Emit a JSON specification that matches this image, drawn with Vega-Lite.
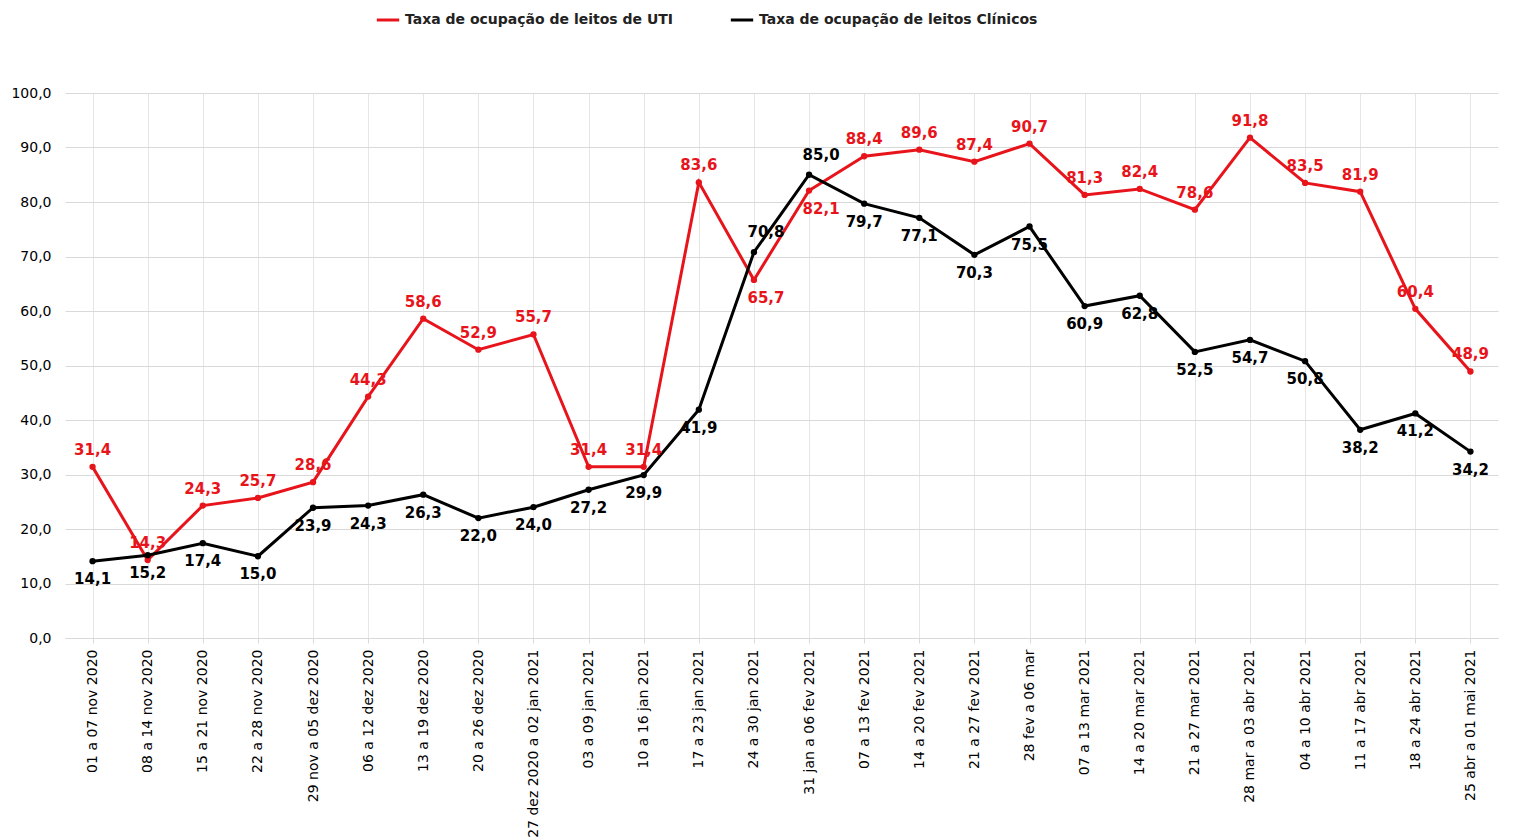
{
"$schema":"https://vega.github.io/schema/vega-lite/v6.json",
"autosize":{"type":"fit","contains":"padding"},
"width":1518,"height":840,
"padding":{"left":10,"right":20,"top":86,"bottom":2},
"config":{"locale":{"number":{"decimal":",","thousands":".","grouping":[3],"currency":["R$",""]}},"view":{"stroke":null},"font":"DejaVu Sans"},
"data":{"values":[
{"s":"Taxa de ocupação de leitos de UTI","w":"01 a 07 nov 2020","v":31.4,"i":0},
{"s":"Taxa de ocupação de leitos de UTI","w":"08 a 14 nov 2020","v":14.3,"i":1},
{"s":"Taxa de ocupação de leitos de UTI","w":"15 a 21 nov 2020","v":24.3,"i":2},
{"s":"Taxa de ocupação de leitos de UTI","w":"22 a 28 nov 2020","v":25.7,"i":3},
{"s":"Taxa de ocupação de leitos de UTI","w":"29 nov a 05 dez 2020","v":28.6,"i":4},
{"s":"Taxa de ocupação de leitos de UTI","w":"06 a 12 dez 2020","v":44.3,"i":5},
{"s":"Taxa de ocupação de leitos de UTI","w":"13 a 19 dez 2020","v":58.6,"i":6},
{"s":"Taxa de ocupação de leitos de UTI","w":"20 a 26 dez 2020","v":52.9,"i":7},
{"s":"Taxa de ocupação de leitos de UTI","w":"27 dez 2020 a 02 jan 2021","v":55.7,"i":8},
{"s":"Taxa de ocupação de leitos de UTI","w":"03 a 09 jan 2021","v":31.4,"i":9},
{"s":"Taxa de ocupação de leitos de UTI","w":"10 a 16 jan 2021","v":31.4,"i":10},
{"s":"Taxa de ocupação de leitos de UTI","w":"17 a 23 jan 2021","v":83.6,"i":11},
{"s":"Taxa de ocupação de leitos de UTI","w":"24 a 30 jan 2021","v":65.7,"i":12},
{"s":"Taxa de ocupação de leitos de UTI","w":"31 jan a 06 fev 2021","v":82.1,"i":13},
{"s":"Taxa de ocupação de leitos de UTI","w":"07 a 13 fev 2021","v":88.4,"i":14},
{"s":"Taxa de ocupação de leitos de UTI","w":"14 a 20 fev 2021","v":89.6,"i":15},
{"s":"Taxa de ocupação de leitos de UTI","w":"21 a 27 fev 2021","v":87.4,"i":16},
{"s":"Taxa de ocupação de leitos de UTI","w":"28 fev a 06 mar","v":90.7,"i":17},
{"s":"Taxa de ocupação de leitos de UTI","w":"07 a 13 mar 2021","v":81.3,"i":18},
{"s":"Taxa de ocupação de leitos de UTI","w":"14 a 20 mar 2021","v":82.4,"i":19},
{"s":"Taxa de ocupação de leitos de UTI","w":"21 a 27 mar 2021","v":78.6,"i":20},
{"s":"Taxa de ocupação de leitos de UTI","w":"28 mar a 03 abr 2021","v":91.8,"i":21},
{"s":"Taxa de ocupação de leitos de UTI","w":"04 a 10 abr 2021","v":83.5,"i":22},
{"s":"Taxa de ocupação de leitos de UTI","w":"11 a 17 abr 2021","v":81.9,"i":23},
{"s":"Taxa de ocupação de leitos de UTI","w":"18 a 24 abr 2021","v":60.4,"i":24},
{"s":"Taxa de ocupação de leitos de UTI","w":"25 abr a 01 mai 2021","v":48.9,"i":25},
{"s":"Taxa de ocupação de leitos Clínicos","w":"01 a 07 nov 2020","v":14.1,"i":0},
{"s":"Taxa de ocupação de leitos Clínicos","w":"08 a 14 nov 2020","v":15.2,"i":1},
{"s":"Taxa de ocupação de leitos Clínicos","w":"15 a 21 nov 2020","v":17.4,"i":2},
{"s":"Taxa de ocupação de leitos Clínicos","w":"22 a 28 nov 2020","v":15.0,"i":3},
{"s":"Taxa de ocupação de leitos Clínicos","w":"29 nov a 05 dez 2020","v":23.9,"i":4},
{"s":"Taxa de ocupação de leitos Clínicos","w":"06 a 12 dez 2020","v":24.3,"i":5},
{"s":"Taxa de ocupação de leitos Clínicos","w":"13 a 19 dez 2020","v":26.3,"i":6},
{"s":"Taxa de ocupação de leitos Clínicos","w":"20 a 26 dez 2020","v":22.0,"i":7},
{"s":"Taxa de ocupação de leitos Clínicos","w":"27 dez 2020 a 02 jan 2021","v":24.0,"i":8},
{"s":"Taxa de ocupação de leitos Clínicos","w":"03 a 09 jan 2021","v":27.2,"i":9},
{"s":"Taxa de ocupação de leitos Clínicos","w":"10 a 16 jan 2021","v":29.9,"i":10},
{"s":"Taxa de ocupação de leitos Clínicos","w":"17 a 23 jan 2021","v":41.9,"i":11},
{"s":"Taxa de ocupação de leitos Clínicos","w":"24 a 30 jan 2021","v":70.8,"i":12},
{"s":"Taxa de ocupação de leitos Clínicos","w":"31 jan a 06 fev 2021","v":85.0,"i":13},
{"s":"Taxa de ocupação de leitos Clínicos","w":"07 a 13 fev 2021","v":79.7,"i":14},
{"s":"Taxa de ocupação de leitos Clínicos","w":"14 a 20 fev 2021","v":77.1,"i":15},
{"s":"Taxa de ocupação de leitos Clínicos","w":"21 a 27 fev 2021","v":70.3,"i":16},
{"s":"Taxa de ocupação de leitos Clínicos","w":"28 fev a 06 mar","v":75.5,"i":17},
{"s":"Taxa de ocupação de leitos Clínicos","w":"07 a 13 mar 2021","v":60.9,"i":18},
{"s":"Taxa de ocupação de leitos Clínicos","w":"14 a 20 mar 2021","v":62.8,"i":19},
{"s":"Taxa de ocupação de leitos Clínicos","w":"21 a 27 mar 2021","v":52.5,"i":20},
{"s":"Taxa de ocupação de leitos Clínicos","w":"28 mar a 03 abr 2021","v":54.7,"i":21},
{"s":"Taxa de ocupação de leitos Clínicos","w":"04 a 10 abr 2021","v":50.8,"i":22},
{"s":"Taxa de ocupação de leitos Clínicos","w":"11 a 17 abr 2021","v":38.2,"i":23},
{"s":"Taxa de ocupação de leitos Clínicos","w":"18 a 24 abr 2021","v":41.2,"i":24},
{"s":"Taxa de ocupação de leitos Clínicos","w":"25 abr a 01 mai 2021","v":34.2,"i":25}
]},
"encoding":{
"x":{"field":"w","type":"ordinal","sort":{"field":"i"},"scale":{"type":"point","padding":0.5},"title":null,
"axis":{"labelAngle":-90,"labelFontSize":14,"labelLimit":300,"labelColor":"#000","domain":true,"domainColor":"#d9d9d9","ticks":true,"tickColor":"#d9d9d9","grid":true,"gridColor":"#e6e6e6","labelPadding":6}},
"y":{"field":"v","type":"quantitative","scale":{"domain":[0,100]},"title":null,
"axis":{"values":[0,10,20,30,40,50,60,70,80,90,100],"format":".1f","labelFontSize":14,"labelColor":"#000","domain":false,"ticks":false,"gridColor":"#d9d9d9","labelPadding":14}},
"color":{"field":"s","type":"nominal",
"scale":{"domain":["Taxa de ocupação de leitos de UTI","Taxa de ocupação de leitos Clínicos"],"range":["#e8141b","#000000"]},
"legend":{"orient":"none","legendX":310,"legendY":-86,"direction":"horizontal","title":null,"labelFontSize":14,"labelLimit":400,"labelFontWeight":"bold","symbolType":"stroke","symbolStrokeWidth":3,"symbolSize":500,"columnPadding":50,"labelColor":"#222"}}
},
"layer":[
{"mark":{"type":"line","strokeWidth":3,"point":{"filled":true,"size":40}}},
{"transform":[{"filter":"datum.s=='Taxa de ocupação de leitos de UTI' && datum.i!=12 && datum.i!=13"}],"mark":{"type":"text","dy":-17,"fontSize":15,"fontWeight":"bold"},"encoding":{"text":{"field":"v","type":"quantitative","format":".1f"}}},
{"transform":[{"filter":"datum.s=='Taxa de ocupação de leitos de UTI' && (datum.i==12 || datum.i==13)"}],"mark":{"type":"text","dy":18,"dx":12,"fontSize":15,"fontWeight":"bold"},"encoding":{"text":{"field":"v","type":"quantitative","format":".1f"}}},
{"transform":[{"filter":"datum.s=='Taxa de ocupação de leitos Clínicos' && datum.i!=12 && datum.i!=13"}],"mark":{"type":"text","dy":18,"fontSize":15,"fontWeight":"bold"},"encoding":{"text":{"field":"v","type":"quantitative","format":".1f"}}},
{"transform":[{"filter":"datum.s=='Taxa de ocupação de leitos Clínicos' && (datum.i==12 || datum.i==13)"}],"mark":{"type":"text","dy":-20,"dx":12,"fontSize":15,"fontWeight":"bold"},"encoding":{"text":{"field":"v","type":"quantitative","format":".1f"}}}
]
}
